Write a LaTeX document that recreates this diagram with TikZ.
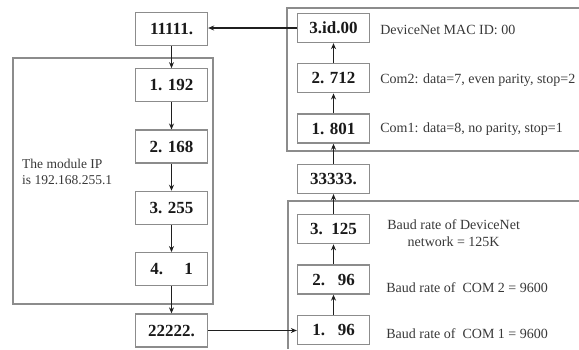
\documentclass[tikz,border=0pt]{standalone}
\usepackage{fontspec}
\setmainfont{Liberation Serif}
\usetikzlibrary{positioning}
\usetikzlibrary{arrows.meta, positioning}

\begin{document}
\begin{tikzpicture}[
  x=1pt, y=-1pt,
  node distance=27pt,
  box/.style={rectangle, draw=black!45, line width=1.3pt, minimum width=72pt, minimum height=33pt, fill=white, text=black!90, font=\fontsize{17}{20}\selectfont\bfseries},
  rbox/.style={box, minimum height=29pt},
  note/.style={inner sep=0pt, text=black!78, font=\fontsize{14}{17}\selectfont},
  frame/.style={draw=black!45, line width=1.1pt},
  arrow/.style={-{Stealth[length=6pt, width=5pt]}, line width=1.6pt, black!88}
]
  \useasboundingbox (0,0) rectangle (579,349);
  \draw[frame] (13,58) rectangle (213,304);
  \draw[frame] (579,8) -| (287,151) -- (579,151);
  \draw[frame] (579,201) -| (288,349);

  \node[box] (ones) at (171.5,29) {11111.};
  \node[box, below=22pt of ones] (ipa) {1. 192};
  \node[box, below=of ipa] (ipb) {2. 168};
  \node[box, below=of ipb] (ipc) {3. 255};
  \node[box, below=of ipc] (ipd) {4.\ \ \ \ \ 1};
  \node[box, below=of ipd] (twos) {22222.};
  \node[note, anchor=west, align=left, font=\fontsize{13.5}{16}\selectfont] (ipnote) at (22,172) {The module IP\\is 192.168.255.1};

  \node[rbox] (mac) at (333.5,28) {3.id.00};
  \node[rbox, below=20pt of mac] (comb) {2. 712};
  \node[rbox, below=20pt of comb] (coma) {1. 801};
  \node[rbox, below=20pt of coma] (threes) {33333.};
  \node[rbox, below=20pt of threes] (bdn) {3.\ \ 125};
  \node[rbox, below=20pt of bdn] (bcb) {2.\ \ \ 96};
  \node[rbox, below=20pt of bcb] (bca) {1.\ \ \ 96};

  \node[note, right=10pt of mac, yshift=-2pt] (macl) {DeviceNet MAC ID: 00};
  \node[note, right=10pt of comb, yshift=-2pt] (combl) {Com2: data=7, even parity, stop=2};
  \node[note, right=10pt of coma, yshift=-1pt] (comal) {Com1: data=8, no parity, stop=1};
  \node[note, right=17pt of bdn, align=center, yshift=-4pt] (bdnl) {Baud rate of DeviceNet\\network = 125K};
  \node[note, right=16pt of bcb, yshift=-8pt] (bcbl) {Baud rate of\ \ COM 2 = 9600};
  \node[note, right=16pt of bca, yshift=-4pt] (bcal) {Baud rate of\ \ COM 1 = 9600};

  \draw[arrow] (ones) -- (ipa);
  \draw[arrow] (ipa) -- (ipb);
  \draw[arrow] (ipb) -- (ipc);
  \draw[arrow] (ipc) -- (ipd);
  \draw[arrow] (ipd) -- (twos);
  \draw[arrow] (twos.east) -- (twos.east -| bca.west);
  \draw[arrow] (bca) -- (bcb);
  \draw[arrow] (bcb) -- (bdn);
  \draw[arrow] (bdn) -- (threes);
  \draw[arrow] (threes) -- (coma);
  \draw[arrow] (coma) -- (comb);
  \draw[arrow] (comb) -- (mac);
  \draw[arrow] (mac.west) -- (mac.west -| ones.east);
\end{tikzpicture}
\end{document}
